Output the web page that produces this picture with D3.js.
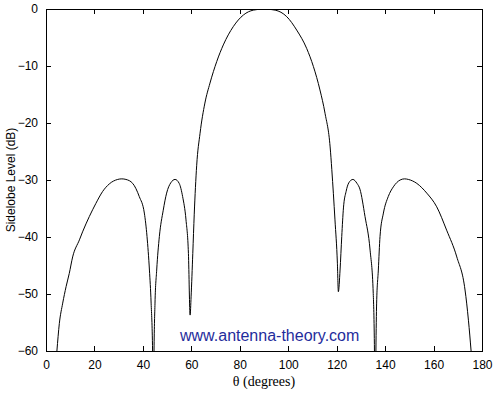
<!DOCTYPE html>
<head>
  <meta charset="utf-8">
  <script src="https://d3js.org/d3.v7.min.js"></script>
  <style>
  body { margin: 0; background: #fff; }
  .axis text { font-family: Arial, "Liberation Sans", sans-serif; font-size: 12px; fill: #000; }
  .axis path, .axis line { stroke: #000; shape-rendering: crispEdges; }
  .pattern { fill: none; stroke: #000; stroke-width: 1px; }
</style>
</head>
<body>
<svg width="496" height="393"></svg>

<script type="text/javascript">
// values (theta in degrees, level in dB)
var theta = [
  4.5, 5.5, 6.9, 8.3, 9.6, 11.0, 13.8, 15.1, 17.9, 20.6, 23.4, 26.1, 29.6, 31.3, 33.0,
  35.8, 38.5, 40.6, 41.7, 42.7, 43.4, 44.0, 44.3,
  44.6, 45.0, 45.7, 46.8, 48.4, 49.8, 51.5, 53.3, 55.0, 56.4, 57.8, 58.8, 59.5,
  59.9, 60.6, 61.2, 62.2, 63.6, 65.6, 67.7, 70.5, 73.2, 77.3, 81.5, 85.6, 90.0,
  94.6, 99.4, 103.5, 107.6, 110.4, 113.1, 115.2, 117.3, 118.0, 119.3, 120.3, 120.7,
  121.4, 122.1, 122.8, 123.9, 125.0, 126.7, 128.4, 129.6, 131.7, 133.8, 135.1, 135.6, 135.9,
  136.2, 136.5, 137.2, 137.9, 139.3, 141.3, 143.4, 146.2, 148.0, 149.6, 153.1, 157.2,
  161.3, 165.4, 169.6, 173.0, 174.4, 175.5
];
var level = [
  -60, -55.2, -51.6, -48.7, -46.4, -43.5, -40.5, -39.1, -36.4, -34.1, -32.0, -30.7, -29.9, -29.8, -29.9,
  -30.6, -32.9, -35.8, -39.9, -45.8, -51.6, -60, -75,
  -60, -51.6, -45.8, -39.9, -35.3, -32.3, -30.5, -29.9, -30.6, -32.9, -37.0, -42.9, -53.7,
  -50.5, -42.9, -36.0, -27.5, -21.8, -16.5, -13.0, -9.2, -6.3, -3.1, -1.05, -0.2, 0,
  -0.2, -1.35, -3.7, -6.9, -10.1, -14.2, -18.3, -24.2, -28.2, -37.0, -44.6, -49.6,
  -45.8, -39.9, -34.9, -32.0, -30.5, -29.9, -30.6, -31.6, -36.4, -42.3, -49.9, -60, -75,
  -60, -51.6, -45.8, -39.9, -35.8, -32.9, -31.2, -30.0, -29.8, -29.9, -30.6, -32.3,
  -34.7, -38.8, -43.5, -49.3, -54.6, -60
];
var xTicks = [0, 20, 40, 60, 80, 100, 120, 140, 160, 180];
var yTicks = [-60, -50, -40, -30, -20, -10, 0];

var svg = d3.select("svg");
var plotL = 46, plotR = 482, plotT = 9, plotB = 351;

var x = d3.scaleLinear().domain([0, 180]).range([plotL, plotR]);
var y = d3.scaleLinear().domain([-60, 0]).range([plotB, plotT]);

svg.append("clipPath").attr("id", "plotclip")
  .append("rect")
    .attr("x", plotL).attr("y", plotT)
    .attr("width", plotR - plotL).attr("height", plotB - plotT);

// the pattern
var pts = theta.map(function(t, i) { return [t, level[i]]; });
svg.append("path")
    .datum(pts)
    .attr("class", "pattern")
    .attr("clip-path", "url(#plotclip)")
    .attr("d", d3.line()
      .curve(d3.curveMonotoneX)
      .x(function(d) { return x(d[0]); })
      .y(function(d) { return y(d[1]); }));

// watermark
svg.append("text")
    .attr("x", 180).attr("y", 341)
    .style("font-family", "Arial, 'Liberation Sans', sans-serif")
    .style("font-size", "16px")
    .style("fill", "#1f2d9c")
    .text("www.antenna-theory.com");

// axes, MATLAB style: ticks point inward, box all round
svg.append("g").attr("class", "axis")
    .attr("transform", "translate(0," + plotB + ")")
    .call(d3.axisBottom(x).tickValues(xTicks).tickSizeInner(-5).tickSizeOuter(0).tickPadding(9));
svg.append("g").attr("class", "axis")
    .attr("transform", "translate(0," + plotT + ")")
    .call(d3.axisTop(x).tickValues(xTicks).tickSizeInner(-5).tickSizeOuter(0).tickFormat(""));
svg.append("g").attr("class", "axis")
    .attr("transform", "translate(" + plotL + ",0)")
    .call(d3.axisLeft(y).tickValues(yTicks).tickSizeInner(-5).tickSizeOuter(0).tickPadding(8));
svg.append("g").attr("class", "axis")
    .attr("transform", "translate(" + plotR + ",0)")
    .call(d3.axisRight(y).tickValues(yTicks).tickSizeInner(-5).tickSizeOuter(0).tickFormat(""));

svg.selectAll(".axis text").attr("fill", "#000");

// axis labels
svg.append("text")
    .attr("x", (plotL + plotR) / 2).attr("y", 386)
    .attr("text-anchor", "middle")
    .style("font-family", "'Liberation Serif', 'DejaVu Serif', serif")
    .style("font-size", "14px")
    .text("\u03b8 (degrees)");

svg.append("text")
    .attr("transform", "translate(15," + ((plotT + plotB) / 2) + ") rotate(-90)")
    .attr("text-anchor", "middle")
    .style("font-family", "Arial, 'Liberation Sans', sans-serif")
    .style("font-size", "12px")
    .text("Sidelobe Level (dB)");
</script>

</body>
</html>
